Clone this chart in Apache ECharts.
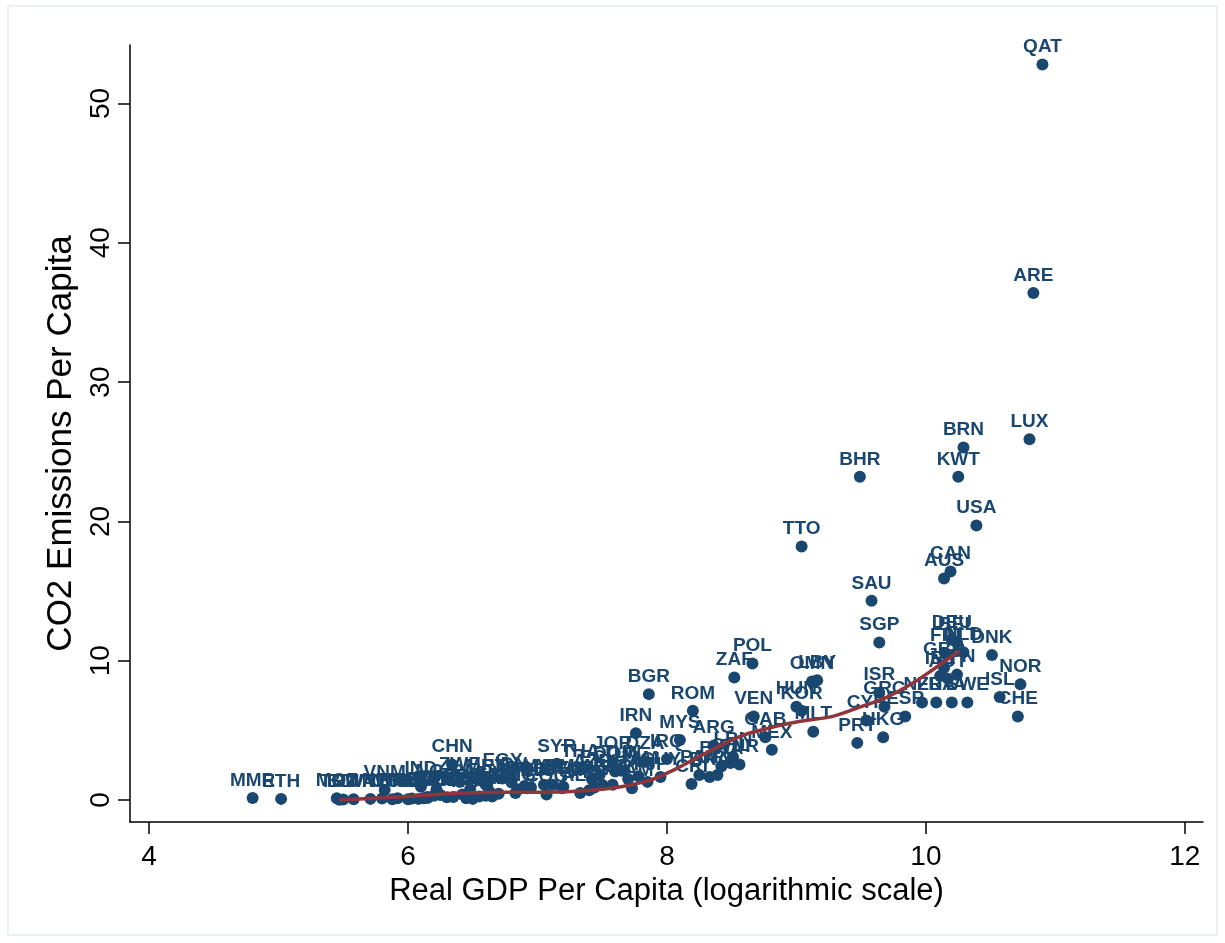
<!DOCTYPE html>
<html>
<head>
<meta charset="utf-8">
<script src="https://cdn.jsdelivr.net/npm/echarts@6/dist/echarts.min.js"></script>
<style>
html,body{margin:0;padding:0;background:#fff;}
#chart{width:1225px;height:943px;}
</style>
</head>
<body>
<div id="chart"></div>
<script>
// Country codes, log real GDP per capita, CO2 per capita
const countries = ["MMR","ETH","MOZ","BDI","TCD","RWA","MWI","NER","VNM","UGA","NPL","TZA","MLI","BFA","IND","MDG","KEN","BGD","SLE","GHA","NGA","HTI","ZMB","CHN","ZWE","SEN","PAK","LAO","KHM","CMR","BEN","CIV","SDN","MRT","EGY","LKA","IDN","PNG","NIC","BOL","HND","PHL","MAR","COG","SYR","GTM","ARM","GEO","THA","ALB","PRY","SLV","ECU","AZE","AGO","JOR","PER","DOM","TUN","COL","NAM","JAM","DZA","IRN","BGR","FJI","IRQ","GUY","MYS","ROM","CRI","PAN","BRA","URY","BWA","ARG","LBN","TUR","CHL","ZAF","POL","VEN","GAB","MEX","HUN","KOR","MLT","OMN","LBY","TTO","BHR","PRT","CYP","SAU","ISR","SGP","HKG","GRC","ESP","NZL","FRA","ITA","SWE","IRL","AUT","JPN","GBR","FIN","NLD","DEU","BEL","DNK","AUS","CAN","USA","KWT","BRN","LUX","ARE","QAT","ISL","NOR","CHE"];
const logGdp = [4.80,5.02,5.45,5.50,5.47,5.58,5.71,5.80,5.82,5.88,5.92,6.03,6.00,6.08,6.10,6.15,6.20,6.15,6.12,6.25,6.22,6.30,6.35,6.34,6.40,6.42,6.48,6.45,6.50,6.55,6.60,6.63,6.65,6.60,6.73,6.70,6.80,6.83,6.85,6.90,6.92,6.95,7.05,7.07,7.15,7.19,7.12,7.20,7.33,7.33,7.40,7.44,7.48,7.42,7.50,7.58,7.58,7.60,7.65,7.70,7.73,7.78,7.83,7.76,7.86,7.85,8.00,7.95,8.10,8.20,8.19,8.25,8.33,8.39,8.42,8.36,8.51,8.56,8.49,8.52,8.66,8.67,8.76,8.81,9.00,9.04,9.13,9.12,9.16,9.04,9.49,9.47,9.54,9.58,9.64,9.64,9.67,9.68,9.84,9.97,10.08,10.20,10.32,10.11,10.17,10.24,10.14,10.15,10.29,10.20,10.24,10.51,10.14,10.19,10.39,10.25,10.29,10.80,10.83,10.90,10.57,10.73,10.71];
const co2 = [0.15,0.08,0.12,0.04,0.02,0.06,0.08,0.10,0.72,0.06,0.12,0.10,0.05,0.08,0.95,0.15,0.30,0.22,0.12,0.35,0.75,0.20,0.22,2.55,1.30,0.40,0.78,0.12,0.08,0.25,0.30,0.60,0.25,1.10,1.55,0.45,1.25,0.50,0.75,1.00,0.85,0.90,1.10,0.40,2.60,0.85,1.10,0.95,2.20,0.50,0.70,0.90,1.80,1.50,1.10,2.75,1.10,2.05,2.10,1.50,0.85,1.70,2.75,4.80,7.60,1.30,2.95,1.65,4.30,6.40,1.15,1.80,1.65,1.80,2.40,3.90,3.10,2.55,2.65,8.80,9.80,6.00,4.50,3.60,6.70,6.40,4.90,8.50,8.60,18.2,23.2,4.10,5.70,14.3,7.70,11.3,4.50,6.70,6.00,7.00,7.00,7.00,7.00,8.90,8.70,9.00,9.50,10.50,10.60,11.50,11.30,10.40,15.90,16.40,19.70,23.2,25.3,25.9,36.4,52.8,7.40,8.30,6.00];
// Lowess fit
const fitX = [5.47,5.94,6.40,6.71,7.23,7.58,7.87,8.05,8.20,8.39,8.59,8.85,9.03,9.28,9.49,9.70,9.90,10.05,10.26];
const fitY = [0.00,0.22,0.50,0.55,0.60,0.86,1.43,2.15,2.87,3.80,4.66,5.30,5.65,6.00,6.67,7.39,8.39,9.33,10.70];
const xTicks = [4,6,8,10,12];
const yTicks = [0,10,20,30,40,50];

const navy = '#1a476f';
const maroon = '#90353b';
const axisFont = '"Liberation Sans",Arial,sans-serif';

const points = countries.map((c,i)=>({name:c, value:[logGdp[i], co2[i]]}));
const fit = fitX.map((x,i)=>[x, fitY[i]]);

const chart = echarts.init(document.getElementById('chart'));
chart.setOption({
  backgroundColor:'#ffffff',
  animation:false,
  graphic:[{type:'rect', shape:{x:8,y:6,width:1209,height:929}, style:{fill:'none', stroke:'#e3ebef', lineWidth:1.5}, z:-1}],
  grid:{left:130, right:22, top:45, bottom:121, containLabel:false},
  xAxis:{
    type:'value', min:3.853, max:12.14,
    name:'Real GDP Per Capita (logarithmic scale)', nameLocation:'middle', nameGap:52,
    nameTextStyle:{fontFamily:axisFont, fontSize:31, color:'#000'},
    axisLine:{show:true, onZero:false, lineStyle:{color:'#000', width:1.5}},
    axisTick:{show:true, length:12, lineStyle:{color:'#000', width:1.5}, customValues:xTicks},
    axisLabel:{customValues:xTicks, fontFamily:axisFont, fontSize:28, color:'#000', margin:21},
    splitLine:{show:false}
  },
  yAxis:{
    type:'value', min:-1.58, max:54.2,
    name:'CO2 Emissions Per Capita', nameLocation:'middle', nameGap:50,
    nameTextStyle:{fontFamily:axisFont, fontSize:35, color:'#000', padding:[0,20,0,0]},
    axisLine:{show:true, onZero:false, lineStyle:{color:'#000', width:1.5}},
    axisTick:{show:true, length:12, lineStyle:{color:'#000', width:1.5}, customValues:yTicks},
    axisLabel:{customValues:yTicks, rotate:90, fontFamily:axisFont, fontSize:28, color:'#000', margin:15},
    splitLine:{show:false}
  },
  series:[
    {
      type:'scatter', data:points, symbol:'circle', symbolSize:12,
      itemStyle:{color:navy, opacity:1},
      label:{show:true, position:'top', distance:2, formatter:'{b}', color:navy,
        fontFamily:'"Liberation Sans",Arial,sans-serif', fontWeight:'bold', fontSize:19},
      emphasis:{disabled:true},
      z:2
    },
    {
      type:'line', data:fit, smooth:0.3, showSymbol:false, symbol:'none',
      lineStyle:{color:maroon, width:3.5}, z:5
    }
  ]
});
</script>
</body>
</html>
